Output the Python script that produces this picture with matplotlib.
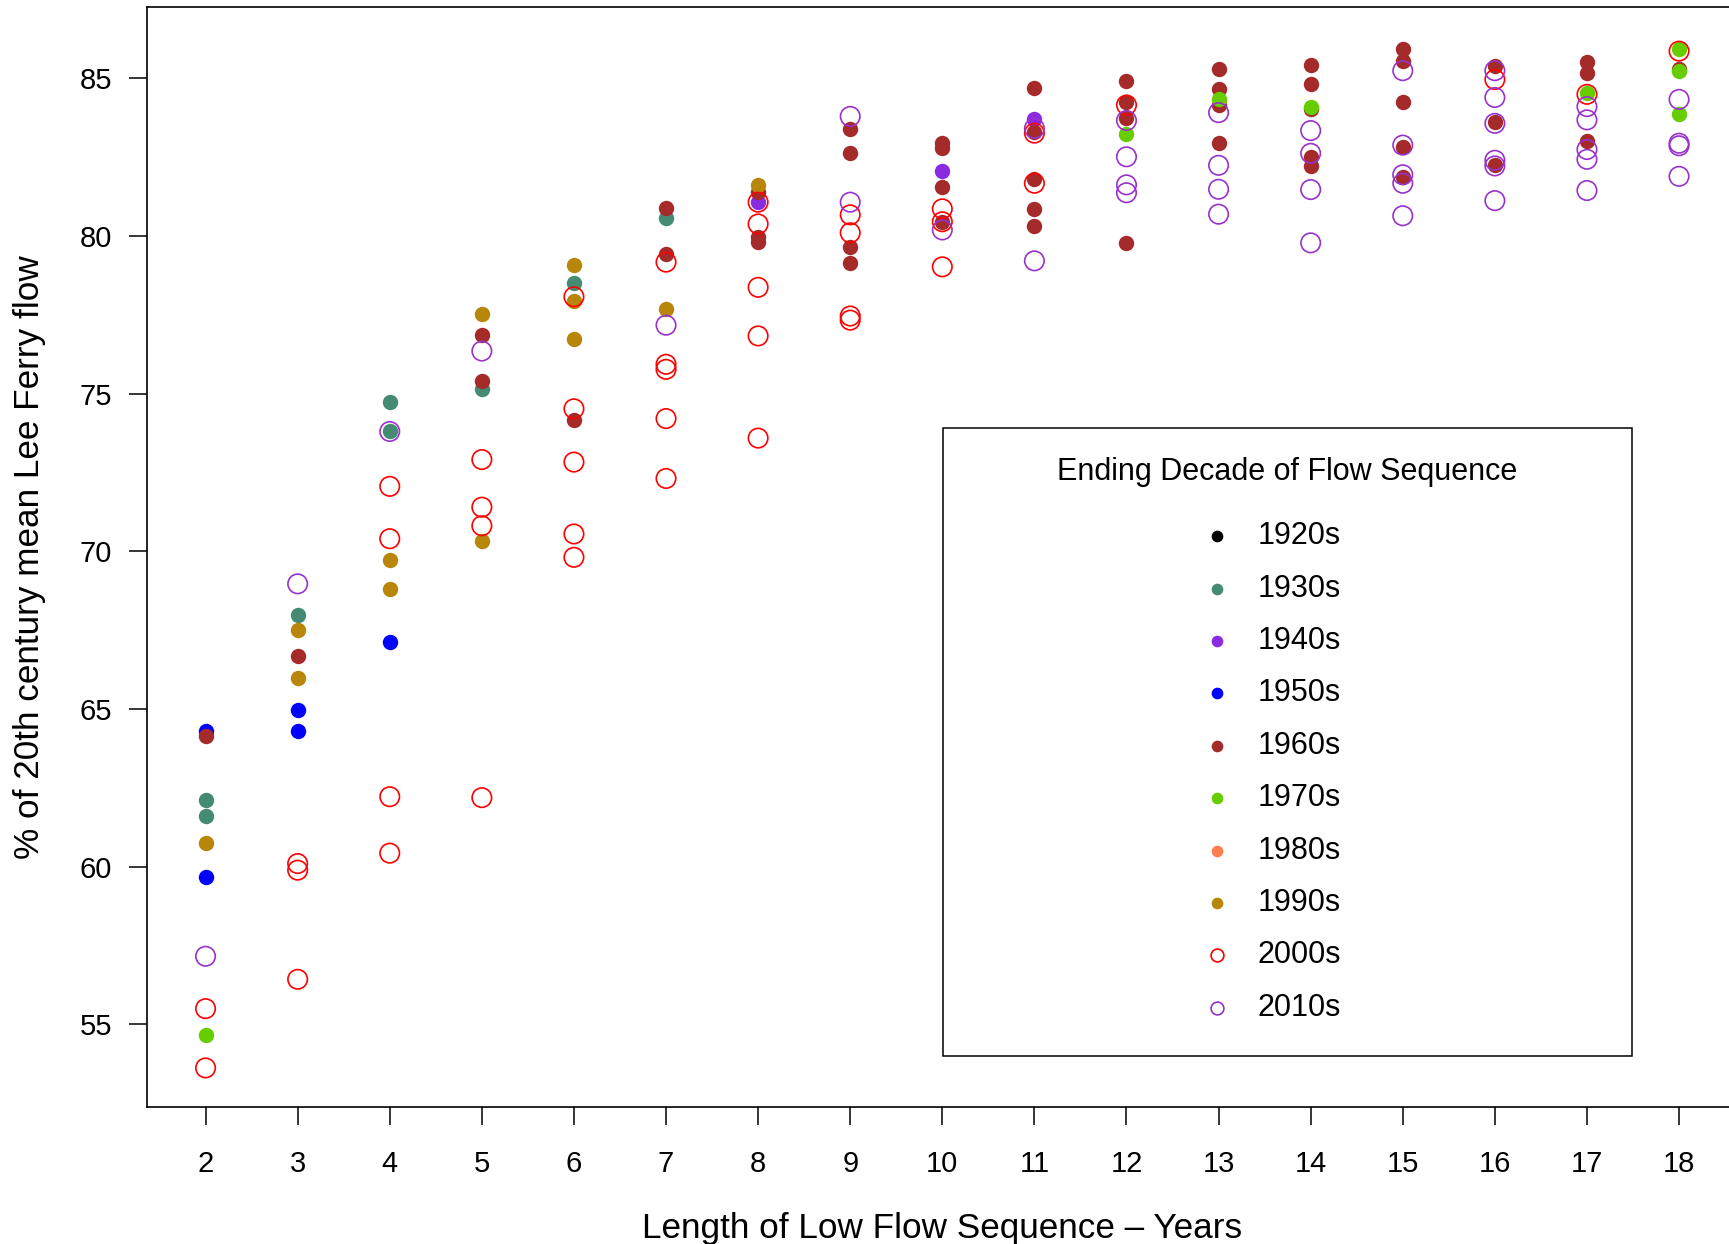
import matplotlib
matplotlib.use("Agg")
from matplotlib import pyplot as plt
from matplotlib.patches import Rectangle

plt.rcParams['font.family'] = ['Liberation Sans', 'DejaVu Sans']

# sequence length (years) and % of 20th century mean flow, per ending decade
x_1920s = []
y_1920s = []

x_1930s = [2, 2, 3, 4, 4, 5, 6, 7]
y_1930s = [62.11, 61.62, 67.97, 74.75, 73.80, 75.15, 78.50, 80.56]

x_1940s = [8, 10, 11]
y_1940s = [81.07, 82.05, 83.72]

x_1950s = [2, 2, 3, 3, 4]
y_1950s = [64.30, 59.67, 64.97, 64.30, 67.12]

x_1960s = [2, 3, 5, 5, 6, 7, 7, 8, 8, 8, 9, 9, 9, 9, 10, 10, 10, 10,
           11, 11, 11, 11, 11, 12, 12, 12, 12, 13, 13, 13, 13,
           14, 14, 14, 14, 14, 15, 15, 15, 15, 15, 16, 16, 16, 17, 17, 17, 18]
y_1960s = [64.13, 66.69, 76.86, 75.39, 74.15, 80.88, 79.44, 81.40, 79.96, 79.82,
           83.39, 82.63, 79.66, 79.13, 82.94, 82.78, 81.55, 80.45,
           84.68, 83.28, 81.81, 80.85, 80.33, 84.92, 84.24, 83.73, 79.77,
           85.28, 84.65, 84.15, 82.94, 85.42, 84.81, 84.01, 82.51, 82.21,
           85.93, 85.56, 84.24, 82.82, 81.88, 85.39, 83.61, 82.24,
           85.50, 85.17, 83.01, 85.29]

x_1970s = [2, 12, 13, 14, 17, 18, 18, 18]
y_1970s = [54.66, 83.22, 84.33, 84.10, 84.53, 85.93, 85.22, 83.88]

x_1980s = []
y_1980s = []

x_1990s = [2, 3, 3, 4, 4, 5, 5, 6, 6, 6, 7, 8]
y_1990s = [60.76, 67.49, 65.99, 69.72, 68.81, 77.51, 70.32, 79.07, 77.94, 76.72,
           77.69, 81.61]

x_2000s = [2, 2, 3, 3, 3, 4, 4, 4, 4, 5, 5, 5, 5, 6, 6, 6, 6, 6,
           7, 7, 7, 7, 7, 8, 8, 8, 8, 8, 9, 9, 9, 9, 10, 10, 10, 11, 11, 12, 16, 17, 18]
y_2000s = [55.50, 53.62, 60.10, 59.89, 56.43, 72.06, 70.40, 62.22, 60.43,
           72.91, 71.40, 70.81, 62.19, 78.07, 74.52, 72.83, 70.55, 69.81,
           79.17, 75.93, 75.77, 74.21, 72.31, 81.07, 80.38, 78.37, 76.83, 73.59,
           80.67, 80.10, 77.46, 77.33, 80.86, 80.45, 79.02, 83.26, 81.67, 84.15,
           84.96, 84.49, 85.86]

x_2010s = [2, 3, 4, 5, 7, 9, 9, 10, 11, 11, 12, 12, 12, 12, 13, 13, 13, 13,
           14, 14, 14, 14, 15, 15, 15, 15, 15, 16, 16, 16, 16, 16, 16,
           17, 17, 17, 17, 17, 18, 18, 18, 18]
y_2010s = [57.16, 68.97, 73.80, 76.35, 77.17, 83.79, 81.07, 80.19, 83.41, 79.21,
           83.66, 82.51, 81.62, 81.37, 83.91, 82.24, 81.48, 80.69,
           83.34, 82.62, 81.47, 79.78, 85.24, 82.88, 81.94, 81.67, 80.64,
           85.24, 84.39, 83.57, 82.40, 82.22, 81.12,
           84.10, 83.68, 82.74, 82.43, 81.44, 84.33, 82.94, 82.86, 81.89]

decades = ['1920s', '1930s', '1940s', '1950s', '1960s', '1970s', '1980s', '1990s', '2000s', '2010s']
xs = [x_1920s, x_1930s, x_1940s, x_1950s, x_1960s, x_1970s, x_1980s, x_1990s, x_2000s, x_2010s]
ys = [y_1920s, y_1930s, y_1940s, y_1950s, y_1960s, y_1970s, y_1980s, y_1990s, y_2000s, y_2010s]
colors = ['black', '#458B74', '#8A2BE2', '#0000FF', '#A52A2A', '#66CD00',
          '#FF7F50', '#B8860B', '#FF0000', '#9932CC']
hollow = [False] * 8 + [True, True]

figure = plt.figure(figsize=(17.29, 12.44), dpi=100)
ax = figure.add_axes([0.0848, 0.1101, 0.9204, 0.8843])

for xv, yv, col, open_pt in zip(xs, ys, colors, hollow):
    if not xv:
        continue
    if open_pt:
        ax.scatter(xv, yv, s=196, facecolors='none', edgecolors=col, linewidths=1.2)
    else:
        ax.scatter(xv, yv, s=123, c=col, linewidths=0)

ax.set_xlim(1.36, 18.64)
ax.set_ylim(52.38, 87.26)
ax.set_xticks(range(2, 19))
ax.set_yticks([55, 60, 65, 70, 75, 80, 85])
ax.tick_params(axis='both', labelsize=21, length=13, width=1.1, direction='out')
ax.tick_params(axis='x', pad=18)
ax.tick_params(axis='y', pad=12)
for sp in ax.spines.values():
    sp.set_linewidth(1.2)

ax.set_xlabel('Length of Low Flow Sequence \u2013 Years', fontsize=25.3, va='center')
ax.xaxis.set_label_coords(0.5, -0.110)
ax.set_ylabel('% of 20th century mean Lee Ferry flow', fontsize=25.3, va='center')
ax.yaxis.set_label_coords(-0.0734, 0.5)

# legend drawn by hand to follow the R layout
ax.add_patch(Rectangle((0.5004, 0.0464), 0.433, 0.5709, transform=ax.transAxes,
                       fill=False, edgecolor='black', linewidth=1.1, zorder=5))
ax.text(0.7166, 0.5775, 'Ending Decade of Flow Sequence', transform=ax.transAxes,
        ha='center', va='center', fontsize=22)
for i, (name, col, open_pt) in enumerate(zip(decades, colors, hollow)):
    yy = 0.5190 - i * 0.04764
    if open_pt:
        ax.plot([0.6726], [yy], 'o', transform=ax.transAxes, markersize=9.2,
                markerfacecolor='none', markeredgecolor=col, markeredgewidth=1.2, clip_on=False)
    else:
        ax.plot([0.6726], [yy], 'o', transform=ax.transAxes, markersize=8.4,
                color=col, markeredgewidth=0, clip_on=False)
    ax.text(0.6980, yy, name, transform=ax.transAxes, ha='left', va='center', fontsize=22)

plt.savefig('out.png', dpi=100)
